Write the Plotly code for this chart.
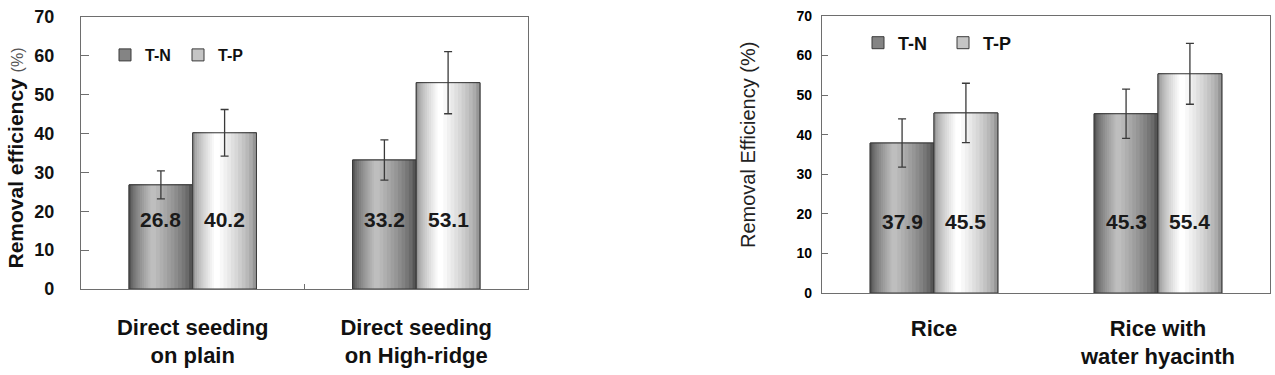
import plotly.graph_objects as go

# ---------------- data ----------------
left_categories = ["Direct seeding<br>on plain", "Direct seeding<br>on High-ridge"]
left_tn = [26.8, 33.2]
left_tn_err = [3.6, 5.2]
left_tp = [40.2, 53.1]
left_tp_err = [6.0, 8.0]

right_categories = ["Rice", "Rice with<br>water hyacinth"]
right_tn = [37.9, 45.3]
right_tn_err = [6.1, 6.2]
right_tp = [45.5, 55.4]
right_tp_err = [7.5, 7.7]

series_names = ["T-N", "T-P"]
y_ticks = [0, 10, 20, 30, 40, 50, 60, 70]

# ---------------- styling ----------------
W, H = 1275, 375
BAR_W = 0.285
LABEL_Y = 18
N_LAYERS = 10
TN_EDGE, TN_CENTER = (85, 85, 85), (190, 190, 190)
TP_EDGE, TP_CENTER = (150, 150, 150), (255, 255, 255)
OUTLINE = "#3a3a3a"
ARIAL = "Arial, Liberation Sans, sans-serif"
NARROW = "Liberation Sans Narrow, Arial Narrow, Arial, sans-serif"


def rgb(c):
    return "rgb(%d,%d,%d)" % tuple(int(round(v)) for v in c)


def mix(a, b, t):
    return tuple(a[i] + (b[i] - a[i]) * t for i in range(3))


fig = go.Figure()


def add_series(cats, vals, errs, name, edge, center, side, xa, ya, legend):
    c_off = side * BAR_W / 2
    hl = c_off - 0.12 * BAR_W
    # base (legend entry)
    fig.add_trace(go.Bar(
        x=cats, y=vals, name=name, width=BAR_W, offset=c_off - BAR_W / 2,
        marker=dict(color=rgb(mix(edge, center, 0.45)), line=dict(width=1, color=OUTLINE)),
        xaxis=xa, yaxis=ya, legend=legend, showlegend=True, hoverinfo="skip"))
    # gradient layers
    fig.add_trace(go.Bar(
        x=cats, y=vals, width=BAR_W, offset=c_off - BAR_W / 2,
        marker=dict(color=rgb(edge), line=dict(width=0)),
        xaxis=xa, yaxis=ya, showlegend=False, hoverinfo="skip"))
    for k in range(1, N_LAYERS + 1):
        frac = 1 - k / (N_LAYERS + 1)
        w = BAR_W * frac
        lc = c_off + (hl - c_off) * (k / N_LAYERS)
        col = mix(edge, center, (k / N_LAYERS) ** 0.7)
        fig.add_trace(go.Bar(
            x=cats, y=vals, width=w, offset=lc - w / 2,
            marker=dict(color=rgb(col), line=dict(width=0)),
            xaxis=xa, yaxis=ya, showlegend=False, hoverinfo="skip"))
    # outline + error bars
    fig.add_trace(go.Bar(
        x=cats, y=vals, width=BAR_W, offset=c_off - BAR_W / 2,
        marker=dict(color="rgba(0,0,0,0)", line=dict(width=1, color=OUTLINE)),
        error_y=dict(type="data", array=errs, color="#3a3a3a", thickness=1.3, width=4),
        xaxis=xa, yaxis=ya, showlegend=False, hoverinfo="skip"))
    return c_off


annotations = []


def add_labels(cats, vals, c_off, xref, yref, font):
    for i, v in enumerate(vals):
        annotations.append(dict(
            x=i + c_off, y=LABEL_Y, xref=xref, yref=yref, text="%.1f" % v,
            showarrow=False, font=font, xanchor="center", yanchor="middle"))


lab_font = dict(family=ARIAL, size=21, color="#1a1a1a", weight="bold")

o = add_series(left_categories, left_tn, left_tn_err, series_names[0], TN_EDGE, TN_CENTER, -1, "x", "y", "legend")
add_labels(left_categories, left_tn, o, "x", "y", lab_font)
o = add_series(left_categories, left_tp, left_tp_err, series_names[1], TP_EDGE, TP_CENTER, 1, "x", "y", "legend")
add_labels(left_categories, left_tp, o, "x", "y", lab_font)
o = add_series(right_categories, right_tn, right_tn_err, series_names[0], TN_EDGE, TN_CENTER, -1, "x2", "y2", "legend2")
add_labels(right_categories, right_tn, o, "x2", "y2", lab_font)
o = add_series(right_categories, right_tp, right_tp_err, series_names[1], TP_EDGE, TP_CENTER, 1, "x2", "y2", "legend2")
add_labels(right_categories, right_tp, o, "x2", "y2", lab_font)

# y-axis titles
annotations.append(dict(
    x=1 / W, y=1 - 158 / H, xref="paper", yref="paper", textangle=-90,
    text="<b>Removal efficiency</b> <span style='font-size:16px;color:#555'>(%)</span>",
    showarrow=False, xanchor="left", yanchor="middle",
    font=dict(family=ARIAL, size=21, color="#111")))
annotations.append(dict(
    x=748 / W, y=1 - 145 / H, xref="paper", yref="paper", textangle=-90,
    text="Removal Efficiency (%)", showarrow=False, xanchor="center", yanchor="middle",
    font=dict(family=ARIAL, size=20, color="#222")))

axis_common = dict(showline=True, linecolor="#6e6e6e", linewidth=1.3, mirror=True,
                   showgrid=False, zeroline=False, automargin=False)

fig.update_layout(
    width=W, height=H, margin=dict(l=0, r=0, t=0, b=0, autoexpand=False),
    paper_bgcolor="white", plot_bgcolor="white",
    barmode="overlay",
    annotations=annotations,
    xaxis=dict(domain=[81 / W, 528 / W], anchor="y", type="category",
               ticks="inside", ticklen=5, tickcolor="#6e6e6e", tickson="boundaries",
               ticklabelstandoff=18,
               tickfont=dict(family=ARIAL, size=22, color="#111", weight="bold"),
               **axis_common),
    yaxis=dict(domain=[1 - 289 / H, 1 - 17 / H], anchor="x", range=[0, 70],
               tickvals=y_ticks, ticks="inside", ticklen=8, tickcolor="#6e6e6e",
               ticklabelstandoff=22,
               tickfont=dict(family=ARIAL, size=18, color="#111", weight="bold"),
               **axis_common),
    xaxis2=dict(domain=[822 / W, 1270 / W], anchor="y2", type="category",
                ticks="", ticklabelstandoff=15,
                tickfont=dict(family=ARIAL, size=22, color="#111", weight="bold"),
                **axis_common),
    yaxis2=dict(domain=[1 - 293 / H, 1 - 16 / H], anchor="x2", range=[0, 70],
                tickvals=y_ticks, ticks="inside", ticklen=6, tickcolor="#6e6e6e",
                ticklabelstandoff=6,
                tickfont=dict(family=NARROW, size=14, color="#000", weight="bold"),
                **axis_common),
    legend=dict(orientation="h", x=105 / W, y=1 - 55 / H, xanchor="left", yanchor="middle",
                bgcolor="rgba(0,0,0,0)", itemwidth=30, entrywidth=28, entrywidthmode="pixels",
                font=dict(family=ARIAL, size=16, color="#111", weight="bold"),
                traceorder="normal"),
    legend2=dict(orientation="h", x=858 / W, y=1 - 43 / H, xanchor="left", yanchor="middle",
                 bgcolor="rgba(0,0,0,0)", itemwidth=30, entrywidth=40, entrywidthmode="pixels",
                 font=dict(family=NARROW, size=18, color="#111", weight="bold"),
                 traceorder="normal"),
    showlegend=True,
)

fig.write_html("out.html")
